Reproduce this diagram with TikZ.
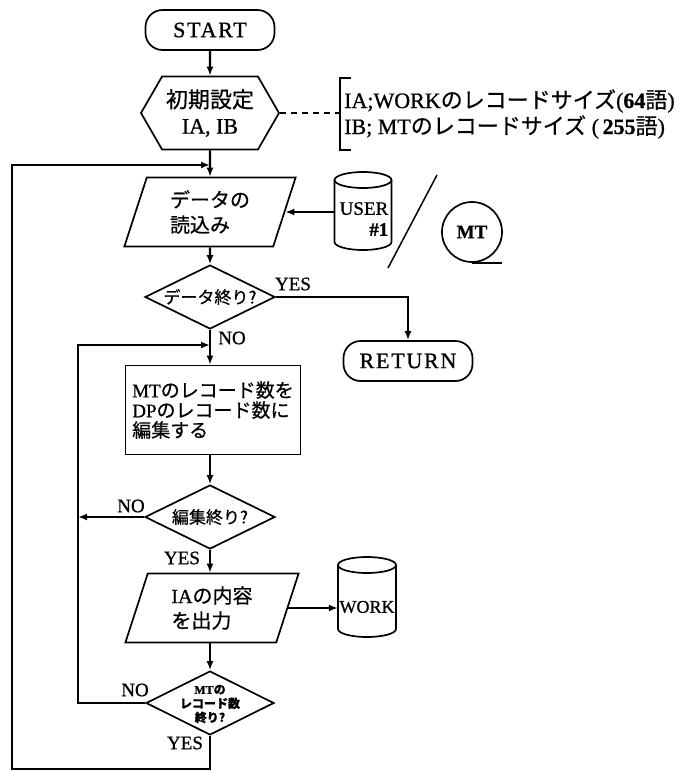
\documentclass[tikz,border=0pt]{standalone}
\usepackage{fontspec}
\setmainfont{Liberation Serif}[FakeBold=0.8]
\newfontfamily\jp{Noto Sans CJK JP}[FakeBold=0.6]
\newfontfamily\spaced{Liberation Serif}[LetterSpace=8,FakeBold=0.8]
\usetikzlibrary{shapes.geometric,shapes.symbols,arrows.meta,calc}
\newcommand\J[1]{{\jp #1}}
% disk/tape drum outline: centre x, centre y, width, height, cap radius
\newcommand\drum[5]{%
  \draw[line width=1.7pt] ({#1-#3/2},{#2-#4/2+#5}) -- ({#1-#3/2},{#2+#4/2-#5})
    arc[start angle=180,end angle=0,x radius={#3/2},y radius=#5]
    -- ({#1+#3/2},{#2-#4/2+#5});
  \draw[line width=1.7pt] (#1,{#2-#4/2+#5}) ellipse[x radius={#3/2},y radius=#5];
}
\begin{document}
\begin{tikzpicture}[x=1pt,y=-1pt,
  shp/.style={draw=black,line width=1.7pt,inner sep=0pt,align=center},
  flow/.style={line width=2.2pt},
  arr/.style={flow,-{Latex[length=9pt,width=7pt]}},
  term/.style={shp,rectangle,rounded corners=17pt,minimum width=129pt,minimum height=40pt,font=\spaced\fontsize{22}{24}\selectfont},
  hexa/.style={shp,signal,signal to=west and east,signal pointer angle=120,minimum width=138pt,minimum height=73pt},
  para/.style={shp,trapezium,trapezium left angle=72,trapezium right angle=108,minimum width=137pt,minimum height=69pt},
  proc/.style={shp,rectangle,minimum width=175pt,minimum height=89pt},
  dia/.style={shp,diamond,minimum width=130pt,minimum height=64pt},
  lbl/.style={font=\fontsize{19}{20}\selectfont,inner sep=0pt},
  body/.style={font=\fontsize{20}{25}\selectfont},
]
\fill[white] (0,0) rectangle (693,772);
\useasboundingbox (0,0) rectangle (693,772);

% main column
\node[term] (start) at (210,30) {START};
\node[hexa,font=\fontsize{22}{26}\selectfont] (init) at (210,113) {\J{初期設定}\\IA, IB};
\node[para,body,align=left] (para1) at (210,212) {\J{データの}\\\J{読込み}};
\node[dia] (d1) at (210,297) {};
\node[font=\jp\fontsize{17}{20}\selectfont,inner sep=0pt] (d1t) at (d1) {データ終り?};
\node[proc,font=\fontsize{19}{20}\selectfont,align=left] (rect) at (213,410)
  {MT\J{のレコード数を}\\DP\J{のレコード数に}\\\J{編集する}};
\node[dia] (d2) at (210,517) {};
\node[font=\jp\fontsize{17}{20}\selectfont,inner sep=0pt] (d2t) at (d2) {編集終り?};
\node[para,body,align=left] (para2) at (212,608) {IA\J{の内容}\\\J{を出力}};
\node[dia,minimum width=128pt] (d3) at (210,703) {};
\node[font=\bfseries\fontsize{12}{14}\selectfont,inner sep=0pt,align=center] (d3t) at (210,704)
  {MT\J{の}\\\J{レコード数}\\\J{終り?}};
\node[term] (ret) at (408,361) {RETURN};

% side notes
\coordinate (brk) at (340,113);
\draw[line width=1.7pt] (351,78) -- (340,78) -- (340,150) -- (351,150);
\node[anchor=west,inner sep=0pt,font=\fontsize{22}{24}\selectfont] (noteA) at (344,101)
  {IA;WORK\J{のレコードサイズ}(\textbf{64}\J{語})};
\node[anchor=west,inner sep=0pt,font=\fontsize{22}{24}\selectfont] (noteB) at (344,127)
  {IB; MT\J{のレコードサイズ} (\,\textbf{255}\J{語})};
\draw[line width=1.3pt,dash pattern=on 6pt off 5pt] (init.east) -- (brk);

% files
\node[minimum width=57pt,minimum height=78pt,inner sep=0pt] (user) at (363,211) {};
\drum{363}{211}{57}{78}{8}
\node[font=\fontsize{19}{21}\selectfont,inner sep=0pt,align=right] (usert) at (364,219) {USER\\\textbf{\#1}};
\node[minimum width=58pt,minimum height=80pt,inner sep=0pt] (work) at (367,597) {};
\drum{367}{597}{58}{80}{8}
\node[font=\fontsize{18}{20}\selectfont,inner sep=0pt] (workt) at (367,607) {WORK};
\coordinate (s1) at (437,175);
\coordinate (s2) at (388,268);
\draw[line width=1.5pt] (s1) -- (s2);
\node[shp,circle,minimum size=60pt,font=\bfseries\fontsize{19}{20}\selectfont] (mt) at (472,232) {MT};
\draw[line width=1.7pt] (mt.south) -- ++(30,0);

% junction points of the loops
\coordinate (j1) at (210,165);
\coordinate (j2) at (210,345);
\coordinate (b1) at (210,769);
\coordinate (c1) at (12,769);
\coordinate (c2) at (12,165);
\coordinate (l2t) at (78,345);
\coordinate (l2b) at (78,703);

% connectors
\draw[arr] (start) -- (init);
\draw[arr] (init) -- (para1);
\draw[arr] (para1) -- (d1);
\draw[arr] (d1.south) -- (rect.north -| d1.south);
\draw[arr] (rect.south -| d2.north) -- (d2.north);
\draw[arr] (d2.south) -- (para2.north -| d2.south);
\draw[arr] (para2.south -| d3.north) -- (d3.north);
\draw[arr] (d1.east) -| (ret.north);
\draw[arr] (user.west |- para1.east) -- (para1.east);
\draw[arr] (para2.east) -- (para2.east -| work.west);
\draw[arr] (d2.west) -- (d2.west -| l2t);
\draw[arr] (d3.west) -- (l2b) -- (l2t) -- (j2);
\draw[arr] (d3.south) -- (b1) -- (c1) -- (c2) -- (j1);

% branch labels
\node[lbl] (yes1) at (293,284) {YES};
\node[lbl] (no1) at (232,338) {NO};
\node[lbl] (no2) at (131,506) {NO};
\node[lbl] (yes2) at (182,558) {YES};
\node[lbl] (no3) at (135,690) {NO};
\node[lbl] (yes3) at (185,743) {YES};
\end{tikzpicture}
\end{document}
